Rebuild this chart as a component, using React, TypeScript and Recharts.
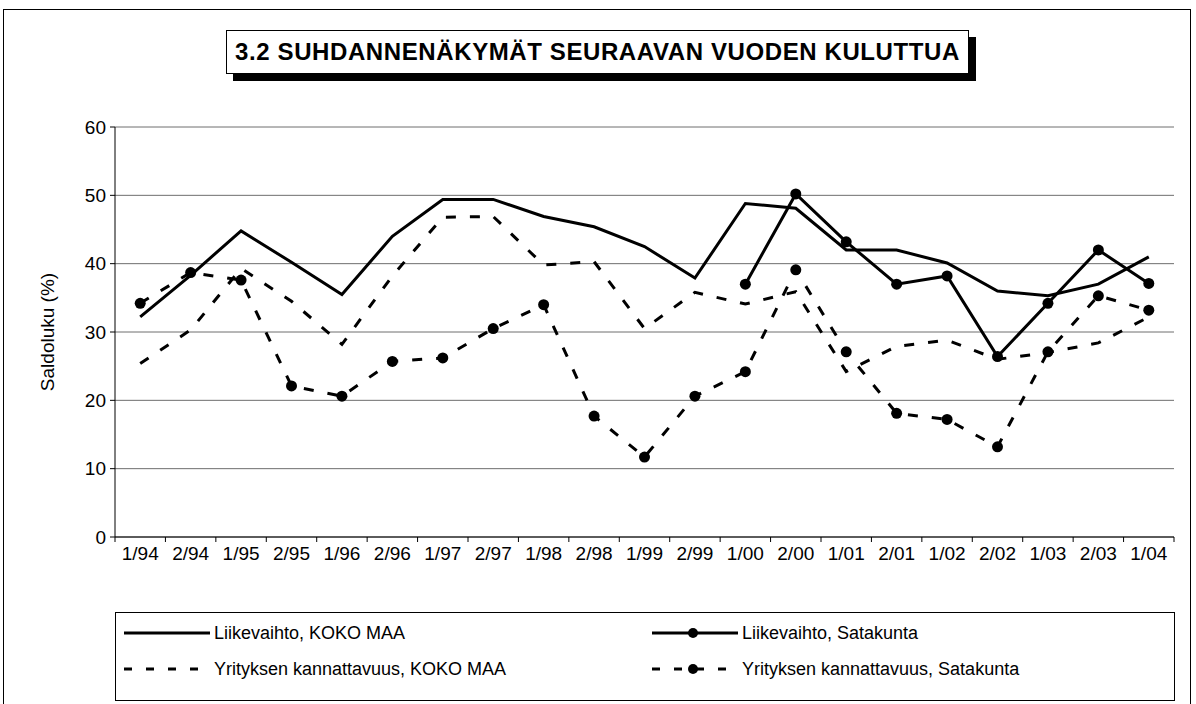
import { LineChart, Line, XAxis, YAxis, CartesianGrid, Label } from 'recharts'

const categories = ['1/94', '2/94', '1/95', '2/95', '1/96', '2/96', '1/97', '2/97', '1/98', '2/98', '1/99', '2/99', '1/00', '2/00', '1/01', '2/01', '1/02', '2/02', '1/03', '2/03', '1/04']

const liikevaihtoKokoMaa = [32.2, 38.3, 44.8, 40.2, 35.5, 44.0, 49.4, 49.4, 46.9, 45.4, 42.5, 37.9, 48.8, 48.1, 42.0, 42.0, 40.1, 36.0, 35.3, 37.0, 41.0]
const liikevaihtoSatakunta = [null, null, null, null, null, null, null, null, null, null, null, null, 37.0, 50.2, 43.2, 37.0, 38.2, 26.4, 34.2, 42.0, 37.1]
const kannattavuusKokoMaa = [25.4, 30.3, 39.3, 34.5, 28.2, 38.2, 46.8, 46.9, 39.8, 40.3, 30.5, 35.8, 34.1, 35.9, 24.2, 27.9, 28.8, 26.0, 27.0, 28.4, 32.2]
const kannattavuusSatakunta = [34.2, 38.7, 37.6, 22.1, 20.6, 25.7, 26.2, 30.5, 34.0, 17.7, 11.7, 20.6, 24.2, 39.1, 27.1, 18.1, 17.2, 13.2, 27.1, 35.3, 33.2]

const yTicks = [0, 10, 20, 30, 40, 50, 60]

const data = categories.map((cat, i) => ({
  cat,
  lkm: liikevaihtoKokoMaa[i],
  lsk: liikevaihtoSatakunta[i],
  kkm: kannattavuusKokoMaa[i],
  ksk: kannattavuusSatakunta[i],
}))

const FONT = 'Liberation Sans, Arial, Helvetica, sans-serif'
const W = 1196
const H = 704
const M = { top: 127, right: 22, left: 55, bottom: 137 }
const Y_W = 60
const BAND = (W - M.left - M.right - Y_W) / categories.length
const DASH = '10 14'

function XTick(props: any) {
  const { x, y, payload, index } = props
  return (
    <g>
      <line x1={x - BAND / 2} x2={x - BAND / 2} y1={y} y2={y + 5} stroke="#000" />
      {index === categories.length - 1 && (
        <line x1={x + BAND / 2} x2={x + BAND / 2} y1={y} y2={y + 5} stroke="#000" />
      )}
      <text x={x} y={y + 10} dy="0.71em" textAnchor="middle" fontSize={19} fontFamily={FONT} fill="#000">
        {payload.value}
      </text>
    </g>
  )
}

function YTitle(props: any) {
  const { viewBox } = props
  const x = viewBox.x - 8
  const y = viewBox.y + viewBox.height / 2
  return (
    <text x={x} y={y} transform={`rotate(-90 ${x} ${y})`} textAnchor="middle" dominantBaseline="central" fontSize={19} fontFamily={FONT} fill="#000">
      Saldoluku (%)
    </text>
  )
}

function Marker(props: any) {
  const { cx, cy, index } = props
  if (cx == null || cy == null || props.value == null) return <g key={index} />
  return <circle key={index} cx={cx} cy={cy} r={5.5} fill="#000" />
}

function Sample({ dashed, marker }: { dashed?: boolean; marker?: boolean }) {
  return (
    <svg width={86} height={12} style={{ display: 'block' }}>
      <line x1={0} x2={86} y1={6} y2={6} stroke="#000" strokeWidth={3} strokeDasharray={dashed ? '8 14' : undefined} />
      {marker && <circle cx={41} cy={6} r={5} fill="#000" />}
    </svg>
  )
}

const legendItems = [
  { label: 'Liikevaihto, KOKO MAA', left: 8, top: 19, dashed: false, marker: false },
  { label: 'Liikevaihto, Satakunta', left: 536, top: 19, dashed: false, marker: true },
  { label: 'Yrityksen kannattavuus, KOKO MAA', left: 8, top: 55, dashed: true, marker: false },
  { label: 'Yrityksen kannattavuus, Satakunta', left: 536, top: 55, dashed: true, marker: true },
]

export default function App() {
  return (
    <div style={{ position: 'absolute', left: 0, top: 0, width: W, height: H, background: '#fff', overflow: 'hidden', fontFamily: FONT }}>
      <div style={{ position: 'absolute', left: 3, top: 9, width: 1186, height: 720, border: '1.5px solid #000' }} />
      <div
        style={{
          position: 'absolute', left: 226, top: 30, width: 741, height: 42, border: '1px solid #000',
          boxShadow: '7px 7px 0 #000', background: '#fff', display: 'flex', alignItems: 'center',
          justifyContent: 'center', fontWeight: 'bold', fontSize: 24, letterSpacing: 0.6, whiteSpace: 'nowrap',
        }}
      >
        3.2 SUHDANNENÄKYMÄT SEURAAVAN VUODEN KULUTTUA
      </div>
      <LineChart width={W} height={H} data={data} margin={M} style={{ position: 'absolute', left: 0, top: 0 }}>
        <CartesianGrid vertical={false} stroke="#6e6e6e" />
        <XAxis
          dataKey="cat"
          interval={0}
          padding={{ left: BAND / 2, right: BAND / 2 }}
          tickLine={false}
          tickSize={0}
          tickMargin={0}
          height={30}
          axisLine={{ stroke: '#000' }}
          tick={<XTick />}
        />
        <YAxis
          width={Y_W}
          domain={[0, 60]}
          ticks={yTicks}
          interval={0}
          tickSize={5}
          tickMargin={4}
          axisLine={{ stroke: '#000' }}
          tickLine={{ stroke: '#000' }}
          tick={{ fontSize: 19, fill: '#000', fontFamily: FONT }}
        >
          <Label content={<YTitle />} />
        </YAxis>
        <Line dataKey="lkm" stroke="#000" strokeWidth={3} dot={false} isAnimationActive={false} />
        <Line dataKey="kkm" stroke="#000" strokeWidth={3} strokeDasharray={DASH} dot={false} isAnimationActive={false} />
        <Line dataKey="ksk" stroke="#000" strokeWidth={3} strokeDasharray={DASH} dot={<Marker />} isAnimationActive={false} />
        <Line dataKey="lsk" stroke="#000" strokeWidth={3} dot={<Marker />} isAnimationActive={false} />
      </LineChart>
      <div style={{ position: 'absolute', left: 115, top: 612, width: 1058, height: 87, border: '1px solid #000', background: '#fff' }}>
        {legendItems.map((it) => (
          <div key={it.label} style={{ position: 'absolute', left: it.left, top: it.top - 10, height: 22, display: 'flex', alignItems: 'center', fontSize: 18, whiteSpace: 'nowrap' }}>
            <Sample dashed={it.dashed} marker={it.marker} />
            <span style={{ marginLeft: 4 }}>{it.label}</span>
          </div>
        ))}
      </div>
    </div>
  )
}
